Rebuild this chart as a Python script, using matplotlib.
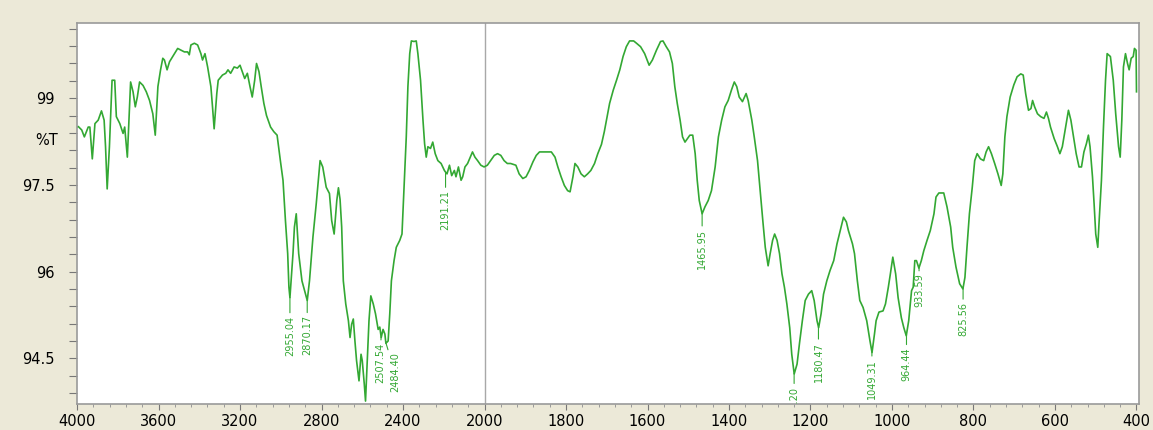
import numpy as np
import matplotlib
matplotlib.use('Agg')
import matplotlib.pyplot as plt
from matplotlib.ticker import FixedLocator

# FTIR spectrum (wavenumber cm-1, %T)
wavenumber = [
    4000, 3994, 3977, 3964, 3945, 3937, 3925, 3912, 3896, 3880, 3867, 3860, 3852, 3841, 3828, 3815,
    3807, 3790, 3774, 3766, 3753, 3737, 3725, 3714, 3704, 3693, 3676, 3660, 3644, 3628, 3616, 3603,
    3590, 3579, 3571, 3558, 3546, 3522, 3506, 3489, 3473, 3457, 3449, 3441, 3424, 3408, 3392, 3384,
    3372, 3359, 3343, 3335, 3327, 3314, 3307, 3286, 3270, 3259, 3246, 3229, 3213, 3200, 3189, 3177,
    3164, 3151, 3140, 3128, 3119, 3107, 3096, 3083, 3070, 3050, 3034, 3018, 3002, 2989, 2977, 2966,
    2960, 2955, 2940, 2933, 2924, 2912, 2896, 2870, 2859, 2842, 2826, 2807, 2794, 2777, 2761, 2750,
    2738, 2725, 2717, 2709, 2701, 2693, 2681, 2668, 2660, 2652, 2644, 2636, 2628, 2616, 2606, 2600,
    2590, 2584, 2574, 2567, 2558, 2546, 2535, 2522, 2514, 2507, 2498, 2489, 2484, 2473, 2465, 2457,
    2444, 2433, 2416, 2405, 2395, 2384, 2376, 2367, 2359, 2346, 2335, 2327, 2314, 2302, 2294, 2286,
    2278, 2265, 2254, 2242, 2229, 2213, 2197, 2191, 2184, 2172, 2161, 2148, 2140, 2128, 2115, 2107,
    2096, 2083, 2070, 2059, 2047, 2034, 2018, 2002,
    1993, 1985, 1976, 1968, 1960, 1952, 1944, 1936, 1923, 1915, 1906, 1898, 1890, 1881, 1873, 1865,
    1853, 1836, 1827, 1820, 1812, 1804, 1796, 1790, 1783, 1778, 1771, 1763, 1755, 1747, 1739, 1730,
    1722, 1713, 1706, 1700, 1693, 1684, 1676, 1668, 1660, 1652, 1644, 1634, 1627, 1617, 1607, 1596,
    1588, 1578, 1568, 1562, 1554, 1546, 1539, 1533, 1527, 1520, 1514, 1508, 1502, 1496, 1489, 1483,
    1478, 1473, 1466, 1459, 1451, 1443, 1434, 1426, 1418, 1410, 1402, 1394, 1387, 1381, 1375, 1367,
    1358, 1353, 1344, 1338, 1330, 1323, 1317, 1311, 1304, 1299, 1293, 1288, 1282, 1276, 1270, 1264,
    1258, 1251, 1246, 1240, 1233, 1227, 1220, 1213, 1205, 1197, 1191, 1184, 1180, 1174, 1168, 1160,
    1152, 1143, 1135, 1127, 1119, 1112, 1107, 1097, 1092, 1085, 1079, 1071, 1062, 1054, 1049, 1043,
    1039, 1032, 1022, 1016, 1009, 1004, 998, 991, 985, 977, 971, 965, 959, 952, 948, 944,
    940, 934, 928, 922, 914, 906, 897, 892, 885, 873, 865, 856, 851, 843, 834, 826,
    821, 816, 810, 803, 797, 791, 783, 775, 769, 763, 756, 748, 740, 732, 728, 723,
    718, 710, 701, 693, 684, 678, 672, 665, 659, 655, 650, 643, 635, 627, 621, 616,
    611, 602, 594, 588, 582, 574, 567, 561, 553, 548, 541, 535, 529, 523, 518, 514,
    508, 504, 500, 495, 492, 486, 481, 476, 472, 464, 457, 451, 444, 440, 436, 432,
    427, 422, 418, 413, 408, 405, 401, 400,
]
transmittance = [
    98.50, 98.51, 98.45, 98.33, 98.50, 98.50, 97.95, 98.56, 98.62, 98.78, 98.62, 98.16, 97.43, 98.16, 99.31, 99.31,
    98.68, 98.56, 98.39, 98.50, 97.98, 99.28, 99.11, 98.85, 99.02, 99.28, 99.22, 99.11, 98.96, 98.73, 98.36, 99.20,
    99.49, 99.69, 99.66, 99.49, 99.63, 99.77, 99.86, 99.83, 99.80, 99.80, 99.75, 99.92, 99.95, 99.92, 99.77, 99.66,
    99.77, 99.54, 99.20, 98.85, 98.47, 99.08, 99.31, 99.40, 99.43, 99.49, 99.43, 99.54, 99.52, 99.57, 99.46, 99.34,
    99.43, 99.20, 99.02, 99.31, 99.60, 99.46, 99.20, 98.91, 98.70, 98.50, 98.42, 98.36, 97.92, 97.58, 96.88, 96.31,
    95.73, 95.55, 96.31, 96.77, 97.00, 96.31, 95.84, 95.50, 95.84, 96.60, 97.17, 97.92, 97.81, 97.46, 97.35, 96.88,
    96.65, 97.23, 97.45, 97.25, 96.77, 95.84, 95.44, 95.15, 94.86, 95.09, 95.18, 94.80, 94.46, 94.11, 94.57, 94.46,
    94.05, 93.76, 94.57, 95.15, 95.58, 95.44, 95.27, 95.00, 95.04, 94.86, 95.00, 94.92, 94.76, 94.80, 95.27, 95.84,
    96.19, 96.42, 96.54, 96.65, 97.46, 98.33, 99.20, 99.77, 99.99, 99.98, 99.99, 99.77, 99.31, 98.62, 98.21, 97.98,
    98.16, 98.13, 98.24, 98.04, 97.92, 97.87, 97.75, 97.72, 97.69, 97.84, 97.66, 97.75, 97.64, 97.81, 97.58, 97.64,
    97.81, 97.87, 97.98, 98.07, 97.98, 97.92, 97.84, 97.81,
    97.84, 97.92, 98.01, 98.04, 98.01, 97.92, 97.87, 97.87, 97.84, 97.69, 97.61, 97.64, 97.75, 97.90, 98.01, 98.07,
    98.07, 98.07, 97.98, 97.81, 97.64, 97.49, 97.40, 97.38, 97.64, 97.87, 97.81, 97.69, 97.64, 97.69, 97.75, 97.87,
    98.04, 98.20, 98.42, 98.65, 98.91, 99.14, 99.31, 99.49, 99.72, 99.89, 99.99, 99.99, 99.95, 99.89, 99.77, 99.57,
    99.66, 99.83, 99.98, 99.99, 99.89, 99.80, 99.60, 99.20, 98.91, 98.62, 98.33, 98.24, 98.30, 98.36, 98.36, 98.04,
    97.58, 97.23, 97.00, 97.12, 97.23, 97.40, 97.81, 98.33, 98.62, 98.85, 98.96, 99.14, 99.28, 99.20, 99.02, 98.94,
    99.08, 98.96, 98.62, 98.33, 97.92, 97.35, 96.88, 96.42, 96.10, 96.31, 96.54, 96.65, 96.54, 96.31, 95.96, 95.73,
    95.44, 95.03, 94.57, 94.23, 94.40, 94.76, 95.15, 95.50, 95.61, 95.67, 95.50, 95.15, 95.03, 95.27, 95.61, 95.84,
    96.02, 96.19, 96.48, 96.71, 96.94, 96.86, 96.71, 96.48, 96.31, 95.84, 95.50, 95.38, 95.15, 94.80, 94.60, 94.92,
    95.15, 95.30, 95.32, 95.44, 95.73, 95.96, 96.25, 95.96, 95.55, 95.20, 95.03, 94.89, 95.15, 95.67, 95.73, 96.19,
    96.19, 96.06, 96.19, 96.36, 96.54, 96.71, 97.00, 97.29, 97.36, 97.36, 97.12, 96.77, 96.42, 96.08, 95.79, 95.70,
    95.90, 96.42, 97.00, 97.46, 97.92, 98.04, 97.95, 97.92, 98.07, 98.16, 98.04, 97.87, 97.69, 97.49, 97.69, 98.33,
    98.68, 99.02, 99.23, 99.37, 99.42, 99.40, 99.08, 98.79, 98.82, 98.96, 98.85, 98.73, 98.68, 98.65, 98.76, 98.65,
    98.50, 98.30, 98.16, 98.04, 98.16, 98.50, 98.79, 98.62, 98.27, 98.04, 97.81, 97.81, 98.07, 98.21, 98.36, 98.16,
    97.64, 97.17, 96.65, 96.42, 96.83, 97.58, 98.50, 99.31, 99.77, 99.72, 99.31, 98.73, 98.16, 97.98, 98.62, 99.54,
    99.77, 99.60, 99.49, 99.69, 99.72, 99.86, 99.83, 99.11,
]

peak_wn = [2955.04, 2870.17, 2507.54, 2484.40, 2191.21, 1465.95, 1240.20, 1180.47, 1049.31, 964.44, 933.59, 825.56]
peak_text = ['2955.04', '2870.17', '2507.54', '2484.40', '2191.21', '1465.95', '1240.20', '1180.47',
             '1049.31', '964.44', '933.59', '825.56']
# label offsets from the peak, pixels
peak_offset = [(0, -18), (0, -15), (-1, -6), (9, -10), (0, -18), (0, -15), (0, -13), (0, -15),
               (0, -7), (0, -13), (0, -6), (0, -14)]

x_major = [4000, 3600, 3200, 2800, 2400, 2000, 1800, 1600, 1400, 1200, 1000, 800, 600, 400]
y_major = [94.5, 96, 97.5, 99]
y_labels = ['94.5', '96', '97.5', '99']

green = '#33a833'
bg = '#ECE9D8'


# x axis is expanded 2x below 2000 cm-1
def fwd(x):
    x = np.asarray(x, dtype=float)
    return np.where(x > 2000, 2000 + (x - 2000) * 0.5, x)


def inv(u):
    u = np.asarray(u, dtype=float)
    return np.where(u > 2000, 2000 + (u - 2000) * 2.0, u)


fig = plt.figure(figsize=(11.53, 4.30), dpi=100, facecolor=bg)
ax = fig.add_axes([0.0668, 0.0605, 0.9210, 0.886])
ax.set_facecolor('white')
ax.set_xscale('function', functions=(fwd, inv))

ax.plot(wavenumber, transmittance, color=green, lw=1.2)
ax.axvline(2000, color='#a8a8a8', lw=1.0, zorder=0)

ax.set_xlim(4000, 394)
ax.set_ylim(93.71, 100.30)

# tick positions
minor_x = list(np.arange(4000, 2000, -80)) + list(np.arange(2000, 399, -40))
ax.xaxis.set_major_locator(FixedLocator(x_major))
ax.xaxis.set_minor_locator(FixedLocator(minor_x))
ax.set_xticklabels([str(v) for v in x_major])
ax.yaxis.set_major_locator(FixedLocator(y_major))
ax.yaxis.set_minor_locator(FixedLocator(np.arange(93.9, 100.3, 0.3)))
ax.set_yticklabels(y_labels)

ax.tick_params(axis='y', which='both', direction='out', length=5.8, width=0.8,
               color='#777777', pad=10.5, labelsize=10.5)
ax.tick_params(axis='x', which='major', direction='out', length=4, width=0.8,
               color='#777777', pad=3, labelsize=10.5)
ax.tick_params(axis='x', which='minor', direction='out', length=2.5, width=0.7, color='#999999')

for s in ax.spines.values():
    s.set_color('#9a9a9a')
    s.set_linewidth(1.2)

ax.text(-0.029, 98.27, '%T', transform=ax.get_yaxis_transform(), ha='center',
        va='center', fontsize=10.5)

# peak labels, clipped at the plot frame like the original
wn_r = np.array(wavenumber[::-1], dtype=float)
t_r = np.array(transmittance[::-1], dtype=float)
for wn, txt, (dx, dy) in zip(peak_wn, peak_text, peak_offset):
    yv = np.interp(wn, wn_r, t_r)
    ann = ax.annotate(txt, xy=(wn, yv), xytext=(dx, dy), textcoords='offset pixels',
                      rotation=90, ha='center', va='top', fontsize=7, color=green,
                      clip_on=True,
                      arrowprops=dict(arrowstyle='-', color=green, lw=0.8,
                                      shrinkA=0, shrinkB=0))
    ann.set_clip_box(ax.bbox)

fig.savefig('out.png', dpi=100, facecolor=bg)
